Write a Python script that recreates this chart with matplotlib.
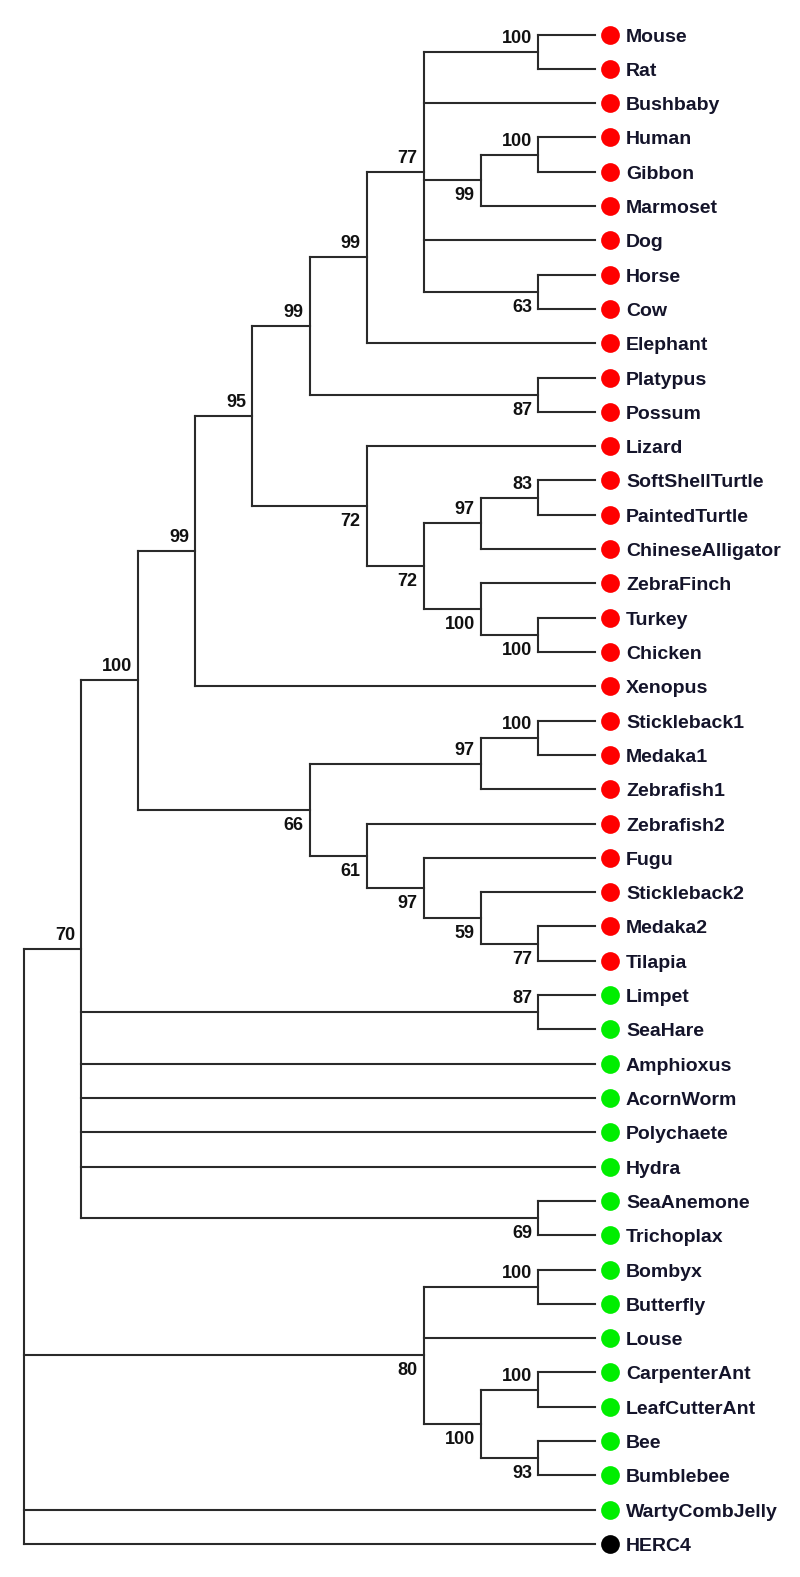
import matplotlib
matplotlib.use("Agg")
import matplotlib.pyplot as plt

# ---------------- data ----------------
tree_newick = ("(((((((((Mouse,Rat)100,Bushbaby,((Human,Gibbon)100,Marmoset)99,Dog,(Horse,Cow)63)77,"
               "Elephant)99,(Platypus,Possum)87)99,(Lizard,(((SoftShellTurtle,PaintedTurtle)83,"
               "ChineseAlligator)97,(ZebraFinch,(Turkey,Chicken)100)100)72)72)95,Xenopus)99,"
               "(((Stickleback1,Medaka1)100,Zebrafish1)97,(Zebrafish2,(Fugu,(Stickleback2,"
               "(Medaka2,Tilapia)77)59)97)61)66)100,(Limpet,SeaHare)87,Amphioxus,AcornWorm,"
               "Polychaete,Hydra,(SeaAnemone,Trichoplax)69)70,((Bombyx,Butterfly)100,Louse,"
               "((CarpenterAnt,LeafCutterAnt)100,(Bee,Bumblebee)93)100)80,WartyCombJelly,HERC4);")

# side of the support value for each clade, in order of closing parenthesis
label_side = ["above", "above", "below", "below", "above", "above", "below", "above",
              "above", "above", "below", "below", "below", "below", "above", "above",
              "above", "above", "below", "below", "below", "below", "below", "above",
              "above", "below", "above", "above", "above", "below", "below", "below"]

red_taxa = ["Mouse", "Rat", "Bushbaby", "Human", "Gibbon", "Marmoset", "Dog", "Horse", "Cow",
            "Elephant", "Platypus", "Possum", "Lizard", "SoftShellTurtle", "PaintedTurtle",
            "ChineseAlligator", "ZebraFinch", "Turkey", "Chicken", "Xenopus", "Stickleback1",
            "Medaka1", "Zebrafish1", "Zebrafish2", "Fugu", "Stickleback2", "Medaka2", "Tilapia"]
green_taxa = ["Limpet", "SeaHare", "Amphioxus", "AcornWorm", "Polychaete", "Hydra", "SeaAnemone",
              "Trichoplax", "Bombyx", "Butterfly", "Louse", "CarpenterAnt", "LeafCutterAnt",
              "Bee", "Bumblebee", "WartyCombJelly"]
black_taxa = ["HERC4"]

# ---------------- parse ----------------
def parse(s):
    pos = 0
    order = []

    def token():
        nonlocal pos
        start = pos
        while s[pos] not in ",();":
            pos += 1
        return s[start:pos]

    def node():
        nonlocal pos
        if s[pos] == "(":
            pos += 1
            kids = [node()]
            while s[pos] == ",":
                pos += 1
                kids.append(node())
            pos += 1  # ')'
            n = {"children": kids, "support": token()}
            order.append(n)
            return n
        return {"name": token()}

    root = node()
    return root, order

root, internal_order = parse(tree_newick)
for n, side in zip(internal_order, label_side):
    n["side"] = side

# ---------------- layout ----------------
W, H = 800, 1577
X0, X1 = 24.0, 595.0
Y0, Y1 = 34.5, 1544.0

leaves = []

def layout(n):
    if "name" in n:
        n["y"] = len(leaves)
        n["h"] = 0
        leaves.append(n)
        return
    for c in n["children"]:
        layout(c)
    n["y"] = (n["children"][0]["y"] + n["children"][-1]["y"]) / 2
    n["h"] = max(c["h"] for c in n["children"]) + 1

layout(root)
max_h = root["h"]

def setx(n):
    n["x"] = max_h - n["h"]
    for c in n.get("children", []):
        setx(c)

setx(root)
nleaf = len(leaves)
DX = (X1 - X0) / max_h
DY = (Y1 - Y0) / (nleaf - 1)

fig = plt.figure(figsize=(W / 100, H / 100), dpi=100)
ax = fig.add_axes([0, 0, 1, 1])
ax.set_xlim(-X0 / DX, (W - X0) / DX)
ax.set_ylim((H - Y0) / DY, -Y0 / DY)
ax.axis("off")

line_kw = dict(color="#2a2a2a", lw=1.5, solid_capstyle="projecting")
num_font = dict(family=["Liberation Sans", "DejaVu Sans"], weight="bold", size=13, color="#111111")
name_font = dict(family=["Liberation Sans", "DejaVu Sans"], weight="bold", size=14, color="#14142a")

def draw(n):
    if "name" in n:
        return
    kids = n["children"]
    ax.plot([n["x"], n["x"]], [kids[0]["y"], kids[-1]["y"]], **line_kw)
    for c in kids:
        ax.plot([n["x"], c["x"]], [c["y"], c["y"]], **line_kw)
        draw(c)
    if n is not root and n["support"]:
        if n["side"] == "above":
            ax.annotate(n["support"], (n["x"], n["y"]), xytext=(-6, 5),
                        textcoords="offset pixels", ha="right", va="bottom", **num_font)
        else:
            ax.annotate(n["support"], (n["x"], n["y"]), xytext=(-6, -7),
                        textcoords="offset pixels", ha="right", va="top", **num_font)

draw(root)

colors = {}
for t in red_taxa:
    colors[t] = "#ff0000"
for t in green_taxa:
    colors[t] = "#00ee00"
for t in black_taxa:
    colors[t] = "#000000"

for lf in leaves:
    ax.plot([lf["x"] + 15 / DX], [lf["y"]], "o", ms=13.5, color=colors[lf["name"]], mec="none")
    ax.annotate(lf["name"], (lf["x"], lf["y"]), xytext=(31, -7), textcoords="offset pixels",
                ha="left", va="baseline", **name_font)

fig.savefig("out.png", dpi=100, facecolor="white")
